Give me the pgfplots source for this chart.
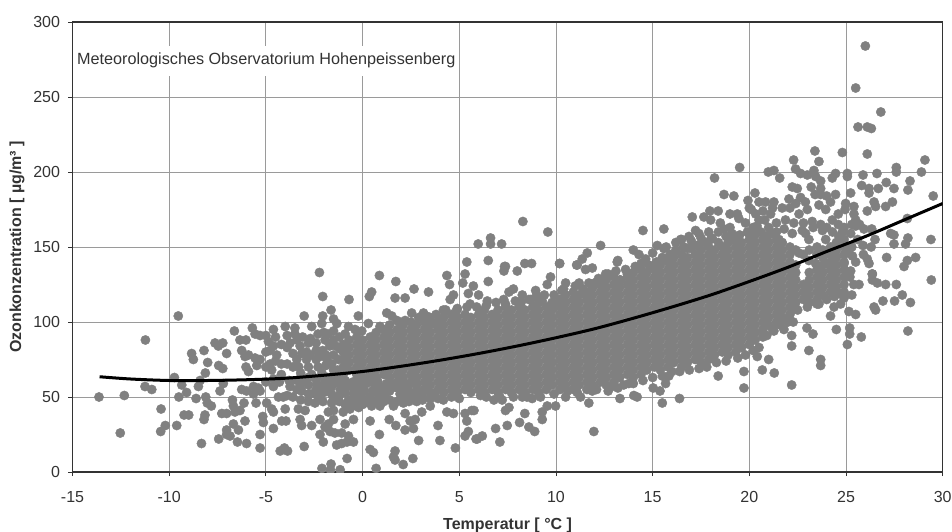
\documentclass[border=0pt]{standalone}
\usepackage{fontspec}
\setmainfont{Liberation Sans}
\usepackage{pgfplots}
\pgfplotsset{compat=1.18}
\definecolor{dotgray}{HTML}{808080}
\definecolor{gridgray}{HTML}{9A9A9A}
\definecolor{txt}{HTML}{333333}
\begin{document}
\begin{tikzpicture}
\path[use as bounding box] (-72.5pt,-60pt) rectangle (879.5pt,472pt);
\begin{axis}[
  scale only axis, width=870.2pt, height=450pt,
  xmin=-15, xmax=30, ymin=0, ymax=300,
  xtick={-15,-10,...,30}, ytick={0,50,...,300},
  clip mode=individual, clip marker paths=true,
  grid=major, grid style={gridgray,line width=0.9pt},
  axis line style={txt,line width=1.5pt},
  tick style={txt,line width=0.9pt},
  tick align=outside, major tick length=4pt,
  xtick pos=bottom, ytick pos=left,
  /pgf/number format/assume math mode=true,
  ticklabel style={font=\fontsize{16}{16}\selectfont,text=txt},
  xticklabel style={yshift=-12pt},
  yticklabel style={xshift=-5pt},
  xlabel={Temperatur [ °C ]},
  ylabel={Ozonkonzentration [ µg/m³ ]},
  xlabel style={at={(rel axis cs:0.5,0)},anchor=center,yshift=-53pt,font=\bfseries\fontsize{16}{16}\selectfont,text=txt},
  ylabel style={at={(rel axis cs:0,0.5)},anchor=center,yshift=55.5pt,font=\bfseries\fontsize{16}{16}\selectfont,text=txt},
]
% Fringe points; inside the solid core single
% points cannot be told apart, so those coordinates are a hand-typed estimate of its extent.
\addplot[only marks,mark=*,mark size=4.65pt,color=dotgray,mark options={draw=none,fill=dotgray}] coordinates {
(-13.63,50)(-12.53,26)(-12.32,51)(-11.23,88)(-11.25,57)(-10.9,55)(-10.42,42)(-10.44,27)(-10.2,31)(-9.61,31)(-9.53,104)(-9.73,63)(-9.5,50)(-9.35,58)(-9.1,53)(-9.23,38)(-8.99,38)(-8.84,79)(-8.75,75)(-8.2,81)(-8.01,73)(-8.13,66)(-8.49,57)(-8.4,61)(-8.61,49)(-8.11,50)(-8.03,46)(-7.82,44)(-8.15,38)(-8.2,35)(-8.33,19)(-7.44,22)(-7.63,86)(-7.46,84)(-7.23,86)(-7.03,79)(-7.44,71)(-7.23,69)(-7.2,59)(-7.37,54)(-7.28,39)(-7.03,39)(-6.73,48)(-6.68,44)(-6.63,94)(-6.34,88)(-6.03,88)(-6.25,81)(-6.08,77)(-5.9,78)(-6.03,70)(-5.9,67)(-6.25,55)(-6,54)(-6.6,40)(-6.34,41)(-6.13,46)(-6.08,34)(-7.03,28)(-6.85,24)(-7.03,25)(-6.68,32)(-6.42,28)(-6.47,20)(-6,19)(-5.3,25)(-5.3,16)(-5.7,96)(-5.56,92)(-5.3,91)(-5.56,76)(-5.3,75)(-5.47,71)(-5.64,57)(-5.39,56)(-5.64,52)(-5.3,54)(-5.51,46)(-5.16,37)(-5.13,33)(-4.61,95)(-4.87,87)(-4.61,84)(-4.78,81)(-4.44,78)(-4.78,72)(-4.7,68)(-4.61,57)(-4.96,46)(-4.7,42)(-4.61,40)(-4.35,50)(-4.1,50)(-4.61,29)(-4.18,34)(-3.96,34)(-4,42)(-4.26,14)(-4.04,16)(-3.88,14)(-3.02,17)(-3.15,31)(-3.23,35)(-3.32,42)(-2.97,41)
(-2.23,133)(-2.06,117)(-1.63,108)(-0.7,115)(-0.22,104)(0.87,131)(0.47,120)(0.35,117)(1.72,127)(1.68,116)(2.2,116)(2.66,122)(3.41,120)(4.36,131)(4.5,125)(5.39,140)(5.3,132)(5.18,126)(4.7,118)(4.53,115)(4.18,108)(5.73,124)(5.47,119)(5.56,112)(4.87,108)(4.09,101)(1.25,106)(1.51,104)(1.77,101)(2.2,101)(2.54,106)(3.15,106)(3.66,99)
(-3.02,104)(-2.06,104)(-1.5,102)(-2.63,97)(-2.11,99)(-4,97)(-3.5,96)(-0.73,97)(-0.39,95)(0.3,99)(-0.04,94)(-1.77,92)(-1.94,88)(-1.5,94)(-1.33,99)(-2.7,89)(-3.9,91)(-3.4,88)(-3.75,86)(-3.23,84)(-3.6,79)(-3.15,79)(-2.4,81)(-2.06,81)(-1.7,84)(-1.5,88)(-3.4,75)(-2.9,75)(-2.4,75)(-1.85,75)(-1.5,78)(-1.25,75)(-1.16,82)(-3.9,72)(-3.6,70)(-3.2,66)(-2.63,65)(-2.1,66)(-1.5,68)(-1,67)(-4.2,65)(-3.75,57)(-3.4,55)(-3.9,51)(-3.6,50)(-3.15,54)(-2.8,58)(-2.37,59)(-1.94,60)(-2.7,52)(-2.3,50)(-1.85,54)(-2.46,46)(-2.05,47)(-1.5,49)(-1.16,55)(-0.73,58)(-0.47,52)(-0.73,48)(-0.3,47)(-0.04,52)(0.39,50)(0,45)(0.47,44)(0.9,44)(0.65,57)(0.2,59)(1.16,52)(1.6,58)(1.94,52)(1.6,44)(2.11,46)(2.37,57)(2.8,59)(2.55,51)(3.07,52)(3.65,52)(1.25,59)(-1.5,41)(-1.77,40)(-1,40)(-0.65,42)(-0.9,32)(-0.47,35)(-1.5,35)(-1.77,32)(-2.2,35)(-2.63,31)(-1.94,30)(-1.68,27)(-1.43,26)(-1.08,26)(-2.2,25)(-2.03,20)(-1.34,18)(-1.08,19)(-0.73,24)(-0.8,20)(-0.47,20)(-0.8,9)(-2.1,2.4)(-1.63,5.3)(-1.66,1.5)(-1.16,1.5)(0.39,34)(0.87,25)(0.39,15)(0.56,13)(0.7,2.4)(1.38,35)(1.72,31)(1.68,14)(1.6,10)(1.68,8)(2.1,5)(2.6,9)(2.9,21)(4,21)(3.9,31)(4.8,16)(5.3,24)(5.47,27)(5.87,22)(2.2,28)(2.63,29)(2.46,34)(2.72,35)(2.2,39)(3.06,40)(3.5,44)(4.18,48)(4.36,40)(4.7,39)(5.3,39)(5.65,41)(5.39,34)
(7.39,137)(7.31,134)(8,134)(8.39,139)(8.74,139)(10.19,139)(11.1,138)(11.53,135)(11.88,136)(13.17,140)(6.5,127)(6,118)(6.45,114)(7.8,122)(7.57,120)(8.26,118)(8.95,121)(9.72,130)(9.55,125)(10.5,126)(10.3,121)(11.2,126)(11.7,126)(12.57,132)(12.4,128)(13.69,132)(13.34,128)(11.36,119)(7.39,112)(8.6,115)(9.29,114)(10.07,112)
(5.76,41)(7.39,41)(7.57,43)(8.39,39)(6.88,29)(7.48,31)(8.12,33)(8.6,30)(8.9,27)(7.1,20)(5.93,22)(6.19,24)(9.29,35)(9.29,40)(9.55,44)(9.98,44)(10.5,50)(11.27,50)(11.7,46)(11.96,27)(13.31,49)(14.03,51)(14.2,50)(15.03,56)(15.38,54)(15.5,46)(16.39,49)(18.39,64)(19.72,67)(19.72,56)(20.67,68)(21,75)(21.29,66)(22.19,58)(22.19,84)(22.19,91)(22.27,100)(22.98,96)(23.08,81)(23.29,92)(23.69,75)(23.69,71)(24.5,95)(25.07,85)(25.19,96)(25.19,92)(25.79,90)(24.2,104)(24.38,110)(25.5,105)(25.15,107)(26.45,110)(26.53,108)(26.91,114)(27.51,114)(27.91,118)(28.33,113)(28.2,94)(27.6,125)(29.41,128)(25.67,125)(26.36,128)(26.62,126)(27.05,125)(26.36,132)(25.24,134)(24.63,119)(24.72,112)(23.6,112)(22.22,108)(21.79,95)(21.27,94)(20.75,92)(20.41,77)(15.84,64)(15.67,59)(13.77,59)(12.91,57)(11.88,54)(8.26,50)(8.77,49)(6.79,48)(7.22,48)(6.1,51)
(26,284)(25.5,256)(26.8,240)(25.62,230)(26.1,230)(26.31,229)(26.1,212)(24.81,213)(23.39,214)(22.29,208)(23.6,207)(29.08,208)(27.6,203)(19.5,203)(18.2,196)(20.98,200)(21.27,201)(21.57,196)(22.39,202)(22.65,199)(23,198)(23.34,201)(23.43,197)(23.69,194)(24.46,199)(24.29,196)(25.07,199)(25.07,197)(25.88,198)(26.6,199)(27.6,200)(28.9,200)(28.31,194)(28.2,188)(27.08,193)(27.48,189)(26.67,189)(26.19,189)(25.81,191)(26.19,186)(25.24,186)(29.51,184)(22.22,190)(22.48,189)(23.69,189)(23.69,185)(24.46,185)(24.2,180)(22.65,183)(22.05,182)(21.7,176)(20.29,186)(19.93,181)(18.69,185)(19.2,184)(20.84,180)(21.27,180)(22.4,179)(23,175)(23.6,178)(23.95,175)(24.98,179)(25.41,177)(24.95,175)(26.45,180)(27.4,180)(27.05,177)(26.53,177)(26.1,174)(18.39,174)(17.96,174)(17.65,170)(17.05,170)(18,168)(19.38,172)(19.46,169)(20.33,172)(20.5,168)(21.87,168)(22.57,172)(23.25,167)(23.69,165)(24.29,168)(25.5,168)(25.41,172)(28.17,169)(25.93,162)(26.33,162)(24.81,160)(14.5,161)(15.58,162)(17.22,161)(18.69,162)(16.45,155)(18.08,156)(22.74,161)(23.78,161)(27.48,158)(27.31,159)(28.2,156)(28.08,152)(29.39,155)(27.48,152)(25.88,151)(8.29,167)(9.58,160)(6.62,156)(5.98,152)(6.62,152)(7.19,152)(12.31,151)(11.62,146)(11.36,142)(14,148)(14.29,145)(14.64,142)(15.24,151)(15.58,149)(6.5,141)(7.34,137)(10.19,139)(11.07,138)(13.2,141)(27.1,143)(26.1,142)(26.19,139)(25.33,144)(24.9,139)(28.6,143)(28.17,141)(28,137)(26.36,132)(16.88,157)(17.39,159)(19.12,155)(19.98,159)(20.84,156)(21.53,155)(22.22,159)(22.91,159)(23.95,155)(24.63,157)(25.24,159)(25.5,164)(21.19,159)(23.08,155)(22.57,146)(23.43,139)(24.46,144)(25.15,146)(23.95,139)(23.08,141)
(-3.9,83)(-3.5,92)(-3.1,90)(-2.8,86)(-2.3,92)(-2.4,86)(-2,93)(-1.2,90)(-1.4,84)(-0.9,92)(-2.9,80)(-2.7,78)(-2.2,77)(-1.9,78)(-1.6,72)(-1.3,68)(-2.8,70)(-2.3,70)(-1.9,71)(-3.3,70)(-1.2,62)(-0.9,61)(-1.4,62)(-1.8,63)(-2.4,62)(-3,61)(-3.4,61)(-3.8,61)(-4.3,60)(-4.6,62)(-5,60)(-5,70)(-5,80)(-4.5,74)(-4.2,72)(-4.2,85)(-4.5,90)(-5,91)
(-3.2,48)(-3.2,58)(-3.2,62)(-2.8,47)(-2.8,52)(-2.8,63)(-2.4,55)(-2,53)(-2,57)(-2,63)(-1.6,46)(-1.6,52)(-1.6,57)(-1.6,61)(-1.2,47)(-1.2,51)(-1.2,59)(-0.9,45)(-0.9,53)(-0.9,56)(-0.9,60)(-0.5,44)(-0.5,48)(-0.5,56)(-0.5,60)(-0.2,43)(-0.2,49)(-0.2,55)(-0.2,58)(-0.2,61)(0.1,46)(0.1,48)(0.1,54)(0.1,62)(0.5,46)(0.5,54)(0.5,60)(0.8,48)(0.8,52)(0.8,55)(0.8,60)(1.1,47)(1.1,56)(1.4,48)(1.4,54)(1.4,60)(1.8,47)(1.8,56)(2.1,50)(2.1,55)(2.1,59)(2.4,47)(2.4,53)(2.8,47)(2.8,52)(2.8,55)(3.1,48)(3.1,50)(3.5,49)(3.9,49)
(0.9,97)(1.4,98)(1.9,100)(2.9,103)(3.3,104)(3.8,105)(4.3,108)(4.9,109)(5.4,110)(5.9,110)(6.4,111)(6.9,113)(7.3,115)(7.9,114)(8.2,113)(8.7,115)(9,118)(9.4,118)(9.9,118)(10.4,122)(10.9,120)(11,124)(11.4,122)(12,126)(12.2,129)(12.7,132)(13.1,134)(13.6,135)(14.1,137)(14.4,139)(14.8,138)(15.2,140)(15.5,143)(15.9,145)(16.2,148)(16.6,150)(17,149)(17.3,151)(17.7,153)(18,155)(18.4,153)(18.8,157)(19.1,159)(19.5,158)(19.9,160)(20.2,163)(20.6,160)(21,163)(21.4,160)
(15,146)(15.7,150)(16.2,153)(16.5,155)(17,154)(17.5,156)(18.4,160)(19,163)(19.8,166)(20.4,164)(20.8,168)(21.4,166)(21.8,162)(22.3,166)(22.8,166)(23.3,163)(16.8,149)(17.9,160)(18.5,166)(19,172)(20.1,175)(20.7,174)(21.1,172)(21.2,176)(22.1,176)(22.9,180)(20.5,180)(20,176)(24,163)(24.6,165)(24.3,160)(24.9,163)(25.3,165)(25.7,165)(24.6,172)(24,184)(23.4,185)(23.2,190)
(5,49)(6.4,50)(7.1,50)(7.8,50)(8.5,50)(9.2,50)(9.9,52)(10.6,54)(11.1,53)(11.6,55)(12.1,55)(12.7,54)(13.2,56)(13.5,58)(14,59)(14.5,61)(15,63)(15.5,64)(16,67)(16.4,67)(16.9,68)(17.4,69)(17.8,70)(18.3,73)(18.8,74)(19.4,76)(19.8,78)(20.2,81)(20.5,83)(20.9,91)(21.2,95)(21.6,98)(22,100)(22.5,108)(23,110)(23.5,112)(24,115)(24.4,117)(24.9,116)(25.3,118)(25.4,125)(25.2,130)(25.5,140)(25.3,150)(25.6,155)(25.9,145)(26.3,150)(26.5,155)
(-1,65)(-1,70)(-1,75)(-1,80)(-1,85)
(-0.7,68)(-0.7,73)(-0.7,78)(-0.7,83)(-0.7,88)
(-0.3,65)(-0.3,70)(-0.3,75)(-0.3,80)(-0.3,85)(-0.3,90)
(0,63)(0,68)(0,73)(0,78)(0,83)(0,88)
(0.4,65)(0.4,70)(0.4,75)(0.4,80)(0.4,85)(0.4,90)
(0.7,63)(0.7,68)(0.7,73)(0.7,78)(0.7,83)(0.7,88)(0.7,93)
(1.1,65)(1.1,70)(1.1,75)(1.1,80)(1.1,85)(1.1,90)(1.1,95)
(1.4,63)(1.4,68)(1.4,73)(1.4,78)(1.4,83)(1.4,88)(1.4,93)
(1.8,60)(1.8,65)(1.8,70)(1.8,75)(1.8,80)(1.8,85)(1.8,90)(1.8,95)
(2.1,63)(2.1,68)(2.1,73)(2.1,78)(2.1,83)(2.1,88)(2.1,93)(2.1,98)
(2.5,60)(2.5,65)(2.5,70)(2.5,75)(2.5,80)(2.5,85)(2.5,90)(2.5,95)(2.5,100)
(2.8,58)(2.8,63)(2.8,68)(2.8,73)(2.8,78)(2.8,83)(2.8,88)(2.8,93)(2.8,98)
(3.2,55)(3.2,60)(3.2,65)(3.2,70)(3.2,75)(3.2,80)(3.2,85)(3.2,90)(3.2,95)(3.2,100)
(3.5,53)(3.5,58)(3.5,63)(3.5,68)(3.5,73)(3.5,78)(3.5,83)(3.5,88)(3.5,93)(3.5,98)(3.5,103)
(3.9,55)(3.9,60)(3.9,65)(3.9,70)(3.9,75)(3.9,80)(3.9,85)(3.9,90)(3.9,95)(3.9,100)
(4.2,53)(4.2,58)(4.2,63)(4.2,68)(4.2,73)(4.2,78)(4.2,83)(4.2,88)(4.2,93)(4.2,98)(4.2,103)
(4.6,50)(4.6,55)(4.6,60)(4.6,65)(4.6,70)(4.6,75)(4.6,80)(4.6,85)(4.6,90)(4.6,95)(4.6,100)(4.6,105)
(4.9,53)(4.9,58)(4.9,63)(4.9,68)(4.9,73)(4.9,78)(4.9,83)(4.9,88)(4.9,93)(4.9,98)(4.9,103)
(5.3,55)(5.3,60)(5.3,65)(5.3,70)(5.3,75)(5.3,80)(5.3,85)(5.3,90)(5.3,95)(5.3,100)(5.3,105)
(5.6,53)(5.6,58)(5.6,63)(5.6,68)(5.6,73)(5.6,78)(5.6,83)(5.6,88)(5.6,93)(5.6,98)(5.6,103)
(6,55)(6,60)(6,65)(6,70)(6,75)(6,80)(6,85)(6,90)(6,95)(6,100)(6,105)
(6.3,53)(6.3,58)(6.3,63)(6.3,68)(6.3,73)(6.3,78)(6.3,83)(6.3,88)(6.3,93)(6.3,98)(6.3,103)(6.3,108)
(6.7,55)(6.7,60)(6.7,65)(6.7,70)(6.7,75)(6.7,80)(6.7,85)(6.7,90)(6.7,95)(6.7,100)(6.7,105)
(7,53)(7,58)(7,63)(7,68)(7,73)(7,78)(7,83)(7,88)(7,93)(7,98)(7,103)(7,108)
(7.4,55)(7.4,60)(7.4,65)(7.4,70)(7.4,75)(7.4,80)(7.4,85)(7.4,90)(7.4,95)(7.4,100)(7.4,105)(7.4,110)
(7.7,53)(7.7,58)(7.7,63)(7.7,68)(7.7,73)(7.7,78)(7.7,83)(7.7,88)(7.7,93)(7.7,98)(7.7,103)(7.7,108)
(8.1,55)(8.1,60)(8.1,65)(8.1,70)(8.1,75)(8.1,80)(8.1,85)(8.1,90)(8.1,95)(8.1,100)(8.1,105)(8.1,110)
(8.4,53)(8.4,58)(8.4,63)(8.4,68)(8.4,73)(8.4,78)(8.4,83)(8.4,88)(8.4,93)(8.4,98)(8.4,103)(8.4,108)
(8.8,55)(8.8,60)(8.8,65)(8.8,70)(8.8,75)(8.8,80)(8.8,85)(8.8,90)(8.8,95)(8.8,100)(8.8,105)(8.8,110)
(9.1,53)(9.1,58)(9.1,63)(9.1,68)(9.1,73)(9.1,78)(9.1,83)(9.1,88)(9.1,93)(9.1,98)(9.1,103)(9.1,108)(9.1,113)
(9.5,55)(9.5,60)(9.5,65)(9.5,70)(9.5,75)(9.5,80)(9.5,85)(9.5,90)(9.5,95)(9.5,100)(9.5,105)(9.5,110)
(9.8,58)(9.8,63)(9.8,68)(9.8,73)(9.8,78)(9.8,83)(9.8,88)(9.8,93)(9.8,98)(9.8,103)(9.8,108)(9.8,113)
(10.2,55)(10.2,60)(10.2,65)(10.2,70)(10.2,75)(10.2,80)(10.2,85)(10.2,90)(10.2,95)(10.2,100)(10.2,105)(10.2,110)(10.2,115)
(10.5,58)(10.5,63)(10.5,68)(10.5,73)(10.5,78)(10.5,83)(10.5,88)(10.5,93)(10.5,98)(10.5,103)(10.5,108)(10.5,113)(10.5,118)
(10.9,55)(10.9,60)(10.9,65)(10.9,70)(10.9,75)(10.9,80)(10.9,85)(10.9,90)(10.9,95)(10.9,100)(10.9,105)(10.9,110)(10.9,115)
(11.2,58)(11.2,63)(11.2,68)(11.2,73)(11.2,78)(11.2,83)(11.2,88)(11.2,93)(11.2,98)(11.2,103)(11.2,108)(11.2,113)(11.2,118)
(11.6,60)(11.6,65)(11.6,70)(11.6,75)(11.6,80)(11.6,85)(11.6,90)(11.6,95)(11.6,100)(11.6,105)(11.6,110)(11.6,115)(11.6,120)
(11.9,58)(11.9,63)(11.9,68)(11.9,73)(11.9,78)(11.9,83)(11.9,88)(11.9,93)(11.9,98)(11.9,103)(11.9,108)(11.9,113)(11.9,118)(11.9,123)
(12.3,60)(12.3,65)(12.3,70)(12.3,75)(12.3,80)(12.3,85)(12.3,90)(12.3,95)(12.3,100)(12.3,105)(12.3,110)(12.3,115)(12.3,120)(12.3,125)
(12.6,58)(12.6,63)(12.6,68)(12.6,73)(12.6,78)(12.6,83)(12.6,88)(12.6,93)(12.6,98)(12.6,103)(12.6,108)(12.6,113)(12.6,118)(12.6,123)(12.6,128)
(13,60)(13,65)(13,70)(13,75)(13,80)(13,85)(13,90)(13,95)(13,100)(13,105)(13,110)(13,115)(13,120)(13,125)(13,130)
(13.3,63)(13.3,68)(13.3,73)(13.3,78)(13.3,83)(13.3,88)(13.3,93)(13.3,98)(13.3,103)(13.3,108)(13.3,113)(13.3,118)(13.3,123)(13.3,128)
(13.7,65)(13.7,70)(13.7,75)(13.7,80)(13.7,85)(13.7,90)(13.7,95)(13.7,100)(13.7,105)(13.7,110)(13.7,115)(13.7,120)(13.7,125)(13.7,130)
(14,63)(14,68)(14,73)(14,78)(14,83)(14,88)(14,93)(14,98)(14,103)(14,108)(14,113)(14,118)(14,123)(14,128)(14,133)
(14.4,65)(14.4,70)(14.4,75)(14.4,80)(14.4,85)(14.4,90)(14.4,95)(14.4,100)(14.4,105)(14.4,110)(14.4,115)(14.4,120)(14.4,125)(14.4,130)(14.4,135)
(14.7,68)(14.7,73)(14.7,78)(14.7,83)(14.7,88)(14.7,93)(14.7,98)(14.7,103)(14.7,108)(14.7,113)(14.7,118)(14.7,123)(14.7,128)(14.7,133)
(15.1,70)(15.1,75)(15.1,80)(15.1,85)(15.1,90)(15.1,95)(15.1,100)(15.1,105)(15.1,110)(15.1,115)(15.1,120)(15.1,125)(15.1,130)(15.1,135)
(15.4,68)(15.4,73)(15.4,78)(15.4,83)(15.4,88)(15.4,93)(15.4,98)(15.4,103)(15.4,108)(15.4,113)(15.4,118)(15.4,123)(15.4,128)(15.4,133)(15.4,138)
(15.8,70)(15.8,75)(15.8,80)(15.8,85)(15.8,90)(15.8,95)(15.8,100)(15.8,105)(15.8,110)(15.8,115)(15.8,120)(15.8,125)(15.8,130)(15.8,135)(15.8,140)
(16.1,73)(16.1,78)(16.1,83)(16.1,88)(16.1,93)(16.1,98)(16.1,103)(16.1,108)(16.1,113)(16.1,118)(16.1,123)(16.1,128)(16.1,133)(16.1,138)(16.1,143)
(16.5,70)(16.5,75)(16.5,80)(16.5,85)(16.5,90)(16.5,95)(16.5,100)(16.5,105)(16.5,110)(16.5,115)(16.5,120)(16.5,125)(16.5,130)(16.5,135)(16.5,140)(16.5,145)
(16.8,73)(16.8,78)(16.8,83)(16.8,88)(16.8,93)(16.8,98)(16.8,103)(16.8,108)(16.8,113)(16.8,118)(16.8,123)(16.8,128)(16.8,133)(16.8,138)(16.8,143)
(17.2,75)(17.2,80)(17.2,85)(17.2,90)(17.2,95)(17.2,100)(17.2,105)(17.2,110)(17.2,115)(17.2,120)(17.2,125)(17.2,130)(17.2,135)(17.2,140)(17.2,145)
(17.5,73)(17.5,78)(17.5,83)(17.5,88)(17.5,93)(17.5,98)(17.5,103)(17.5,108)(17.5,113)(17.5,118)(17.5,123)(17.5,128)(17.5,133)(17.5,138)(17.5,143)(17.5,148)
(17.9,75)(17.9,80)(17.9,85)(17.9,90)(17.9,95)(17.9,100)(17.9,105)(17.9,110)(17.9,115)(17.9,120)(17.9,125)(17.9,130)(17.9,135)(17.9,140)(17.9,145)(17.9,150)
(18.2,78)(18.2,83)(18.2,88)(18.2,93)(18.2,98)(18.2,103)(18.2,108)(18.2,113)(18.2,118)(18.2,123)(18.2,128)(18.2,133)(18.2,138)(18.2,143)(18.2,148)
(18.6,80)(18.6,85)(18.6,90)(18.6,95)(18.6,100)(18.6,105)(18.6,110)(18.6,115)(18.6,120)(18.6,125)(18.6,130)(18.6,135)(18.6,140)(18.6,145)(18.6,150)
(18.9,78)(18.9,83)(18.9,88)(18.9,93)(18.9,98)(18.9,103)(18.9,108)(18.9,113)(18.9,118)(18.9,123)(18.9,128)(18.9,133)(18.9,138)(18.9,143)(18.9,148)(18.9,153)
(19.3,80)(19.3,85)(19.3,90)(19.3,95)(19.3,100)(19.3,105)(19.3,110)(19.3,115)(19.3,120)(19.3,125)(19.3,130)(19.3,135)(19.3,140)(19.3,145)(19.3,150)(19.3,155)
(19.6,83)(19.6,88)(19.6,93)(19.6,98)(19.6,103)(19.6,108)(19.6,113)(19.6,118)(19.6,123)(19.6,128)(19.6,133)(19.6,138)(19.6,143)(19.6,148)(19.6,153)
(20,85)(20,90)(20,95)(20,100)(20,105)(20,110)(20,115)(20,120)(20,125)(20,130)(20,135)(20,140)(20,145)(20,150)(20,155)
(20.3,88)(20.3,93)(20.3,98)(20.3,103)(20.3,108)(20.3,113)(20.3,118)(20.3,123)(20.3,128)(20.3,133)(20.3,138)(20.3,143)(20.3,148)(20.3,153)(20.3,158)
(20.7,90)(20.7,95)(20.7,100)(20.7,105)(20.7,110)(20.7,115)(20.7,120)(20.7,125)(20.7,130)(20.7,135)(20.7,140)(20.7,145)(20.7,150)(20.7,155)
(21,98)(21,103)(21,108)(21,113)(21,118)(21,123)(21,128)(21,133)(21,138)(21,143)(21,148)(21,153)(21,158)
(21.4,100)(21.4,105)(21.4,110)(21.4,115)(21.4,120)(21.4,125)(21.4,130)(21.4,135)(21.4,140)(21.4,145)(21.4,150)(21.4,155)
(21.7,103)(21.7,108)(21.7,113)(21.7,118)(21.7,123)(21.7,128)(21.7,133)(21.7,138)(21.7,143)(21.7,148)(21.7,153)
(22.1,105)(22.1,110)(22.1,115)(22.1,120)(22.1,125)(22.1,130)(22.1,135)(22.1,140)(22.1,145)(22.1,150)
(22.4,113)(22.4,118)(22.4,123)(22.4,128)(22.4,133)(22.4,138)(22.4,148)
(22.8,115)(22.8,120)(22.8,125)(22.8,145)
(23.1,113)(23.1,118)(23.1,123)(23.1,128)(23.1,133)(23.1,148)
(23.5,115)(23.5,120)(23.5,125)(23.5,130)(23.5,135)(23.5,145)(23.5,150)
(23.8,118)(23.8,123)(23.8,128)(23.8,133)(23.8,138)(23.8,143)(23.8,148)
(24.2,120)(24.2,125)(24.2,130)(24.2,135)(24.2,140)(24.2,145)(24.2,150)
(24.5,123)(24.5,128)(24.5,133)(24.5,138)(24.5,143)(24.5,148)(24.5,153)
(24.9,120)(24.9,125)(24.9,130)(24.9,135)(24.9,140)(24.9,145)(24.9,150)(24.9,155)
};
\addplot[black,line width=3pt,smooth] coordinates {
(-13.6,63.5)(-12,62)(-10,61)(-8,61)(-6,61.5)(-4,62.5)(-2,64.5)(0,67)(2,70.5)(4,74.5)(6,79)(8,84)(10,89.5)(12,95.5)(14,102.5)(16,110)(18,118)(20,127)(22,136.5)(24,147)(26,157)(28,168)(30,179)
};
\node[anchor=west,fill=white,inner xsep=1pt,minimum height=30pt,font=\fontsize{16.2}{16.2}\selectfont,text=txt] at (rel axis cs:0.004,0.9142) {Meteorologisches Observatorium Hohenpeissenberg};
\end{axis}
\end{tikzpicture}
\end{document}
